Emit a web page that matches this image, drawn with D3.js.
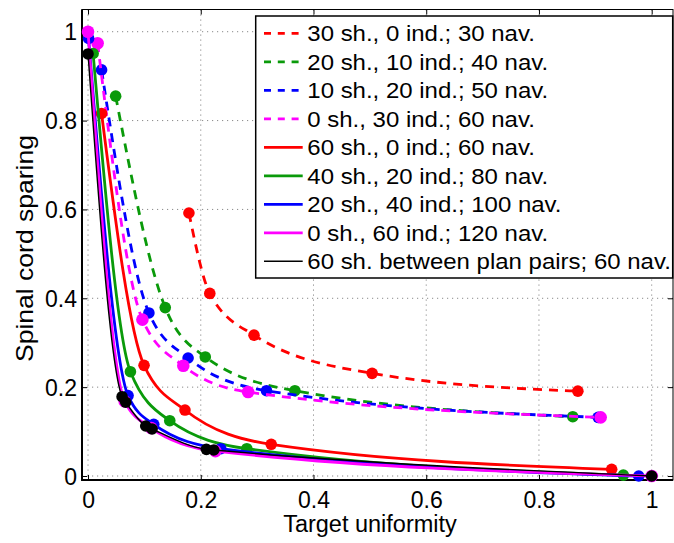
<!DOCTYPE html>
<html>
<head>
<meta charset="utf-8">
<script src="https://cdn.jsdelivr.net/npm/d3@7"></script>
<style>
  html, body { margin: 0; padding: 0; background: #fff; }
  svg { display: block; font-family: "Liberation Sans", Arial, Helvetica, sans-serif; }
</style>
</head>
<body>
<svg id="chart" width="674" height="543"></svg>
<script>
// ---------------- data ----------------
const seriesLabels = [
  "30 sh., 0 ind.; 30 nav.",
  "20 sh., 10 ind.; 40 nav.",
  "10 sh., 20 ind.; 50 nav.",
  "0 sh., 30 ind.; 60 nav.",
  "60 sh., 0 ind.; 60 nav.",
  "40 sh., 20 ind.; 80 nav.",
  "20 sh., 40 ind.; 100 nav.",
  "0 sh., 60 ind.; 120 nav.",
  "60 sh. between plan pairs; 60 nav."
];
const seriesColors = ["#ff0000", "#0a9a0a", "#0000ff", "#ff00ff", "#ff0000", "#0a9a0a", "#0000ff", "#ff00ff", "#000000"];
const seriesDashed = [true, true, true, true, false, false, false, false, false];

const dashRedX = [0.179, 0.216, 0.2945, 0.504, 0.869];
const dashRedY = [0.592, 0.411, 0.317, 0.231, 0.191];
const dashGreenX = [0.049, 0.137, 0.208, 0.367, 0.860];
const dashGreenY = [0.855, 0.379, 0.268, 0.192, 0.1335];
const dashBlueX = [0.024, 0.108, 0.1775, 0.3166, 0.905];
const dashBlueY = [0.914, 0.367, 0.2656, 0.192, 0.132];
const dashMagentaX = [0.017, 0.0965, 0.169, 0.284, 0.9095];
const dashMagentaY = [0.974, 0.352, 0.248, 0.189, 0.132];
const solidRedX = [0.024, 0.0994, 0.172, 0.325, 0.929];
const solidRedY = [0.816, 0.249, 0.1485, 0.0713, 0.015];
const solidGreenX = [0.009, 0.0752, 0.145, 0.2817, 0.9497];
const solidGreenY = [0.951, 0.2348, 0.1245, 0.0615, 0.002];
const solidBlueX = [0.001, 0.071, 0.1166, 0.2355, 0.977];
const solidBlueY = [0.985, 0.181, 0.1163, 0.0615, 0.0];
const solidMagentaX = [0.0, 0.065, 0.112, 0.226, 1.0];
const solidMagentaY = [1.0, 0.168, 0.108, 0.056, 0.0];
const blackX = [0.0, 0.0604, 0.0669, 0.1024, 0.1136, 0.210, 0.2231, 1.0];
const blackY = [0.95, 0.1785, 0.166, 0.1125, 0.1058, 0.060, 0.0585, 0.0];

const seriesX = [dashRedX, dashGreenX, dashBlueX, dashMagentaX, solidRedX, solidGreenX, solidBlueX, solidMagentaX, blackX];
const seriesY = [dashRedY, dashGreenY, dashBlueY, dashMagentaY, solidRedY, solidGreenY, solidBlueY, solidMagentaY, blackY];

const xTicks = [0, 0.2, 0.4, 0.6, 0.8, 1];
const yTicks = [0, 0.2, 0.4, 0.6, 0.8, 1];
const xTickLabels = ["0", "0.2", "0.4", "0.6", "0.8", "1"];
const yTickLabels = ["0", "0.2", "0.4", "0.6", "0.8", "1"];
const xTitle = "Target uniformity";
const yTitle = "Spinal cord sparing";

// ---------------- layout ----------------
const plot = { left: 82, top: 9.5, right: 673, bottom: 480 };
const svg = d3.select("#chart");

const x = d3.scaleLinear().domain([-0.0107, 1.0378]).range([plot.left, plot.right]);
const y = d3.scaleLinear().domain([-0.009, 1.05]).range([plot.bottom, plot.top]);

// grid
const grid = svg.append("g").attr("class", "grid");
grid.selectAll("line.gx").data(xTicks).join("line")
  .attr("x1", d => x(d)).attr("x2", d => x(d))
  .attr("y1", plot.top).attr("y2", plot.bottom)
  .attr("stroke", "#8a8a8a").attr("stroke-width", 1).attr("stroke-dasharray", "1.2,3.8");
grid.selectAll("line.gy").data(yTicks).join("line")
  .attr("y1", d => y(d)).attr("y2", d => y(d))
  .attr("x1", plot.left).attr("x2", plot.right)
  .attr("stroke", "#8a8a8a").attr("stroke-width", 1).attr("stroke-dasharray", "1.2,3.8");

// axes (ticks inside)
const xAxisB = d3.axisBottom(x).tickValues(xTicks).tickSize(-5).tickFormat((d, i) => xTickLabels[i]).tickPadding(0);
const xAxisT = d3.axisTop(x).tickValues(xTicks).tickSize(-5).tickFormat("");
const yAxisL = d3.axisLeft(y).tickValues(yTicks).tickSize(-5).tickFormat((d, i) => yTickLabels[i]).tickPadding(0);
const yAxisR = d3.axisRight(y).tickValues(yTicks).tickSize(-5).tickFormat("");

const gxb = svg.append("g").attr("transform", `translate(0,${plot.bottom})`).call(xAxisB);
const gxt = svg.append("g").attr("transform", `translate(0,${plot.top})`).call(xAxisT);
const gyl = svg.append("g").attr("transform", `translate(${plot.left},0)`).call(yAxisL);
const gyr = svg.append("g").attr("transform", `translate(${plot.right},0)`).call(yAxisR);
[gxb, gxt, gyl, gyr].forEach(g => {
  g.select(".domain").remove();
  g.selectAll(".tick line").attr("stroke", "#000").attr("stroke-width", 1);
});
gxb.selectAll(".tick text")
  .attr("font-size", 23).attr("fill", "#000")
  .attr("y", 28).attr("dy", 0);
gyl.selectAll(".tick text")
  .attr("font-size", 23).attr("fill", "#000")
  .attr("x", -5).attr("dy", "0.36em");

// axis box
svg.append("rect")
  .attr("x", plot.left).attr("y", plot.top)
  .attr("width", plot.right - plot.left).attr("height", plot.bottom - plot.top)
  .attr("fill", "none").attr("stroke", "#000").attr("stroke-width", 1);
svg.append("line").attr("x1", plot.left).attr("x2", plot.left).attr("y1", plot.top).attr("y2", plot.bottom + 0.8)
  .attr("stroke", "#000").attr("stroke-width", 2);
svg.append("line").attr("x1", plot.left - 0.8).attr("x2", plot.right).attr("y1", plot.bottom).attr("y2", plot.bottom)
  .attr("stroke", "#000").attr("stroke-width", 2);

// axis titles
svg.append("text")
  .attr("x", 370).attr("y", 532)
  .attr("text-anchor", "middle").attr("font-size", 23.5).attr("fill", "#000")
  .text(xTitle);
const yt = svg.append("text")
  .attr("transform", "translate(33,248.5) rotate(-90)")
  .attr("text-anchor", "middle").attr("font-size", 24.5).attr("fill", "#000")
  .text(yTitle);
yt.attr("textLength", 227).attr("lengthAdjust", "spacingAndGlyphs");

// series
const line = d3.line().x(d => x(d[0])).y(d => y(d[1])).curve(d3.curveMonotoneX);
const plotG = svg.append("g");
seriesX.forEach((xs, i) => {
  const pts = xs.map((v, j) => [v, seriesY[i][j]]);
  const g = plotG.append("g");
  g.append("path")
    .attr("d", line(pts))
    .attr("fill", "none")
    .attr("stroke", seriesColors[i])
    .attr("stroke-width", i === 8 ? 1.4 : 2.8)
    .attr("stroke-dasharray", seriesDashed[i] ? "9,7" : null);
  g.selectAll("circle").data(pts).join("circle")
    .attr("cx", d => x(d[0])).attr("cy", d => y(d[1]))
    .attr("r", seriesColors[i] === "#ff00ff" ? 6.3 : 5.8)
    .attr("fill", seriesColors[i]);
});

// legend
const leg = { x: 255.7, y: 16, w: 417, h: 262, row0: 33.3, step: 28.5, lx1: 264, lx2: 302.7, tx: 307.3 };
const lg = svg.append("g");
lg.append("rect")
  .attr("x", leg.x).attr("y", leg.y).attr("width", leg.w).attr("height", leg.h)
  .attr("fill", "#fff").attr("stroke", "#000").attr("stroke-width", 1.5);
seriesLabels.forEach((lab, i) => {
  const cy = leg.row0 + i * leg.step;
  lg.append("line")
    .attr("x1", leg.lx1).attr("x2", leg.lx2).attr("y1", cy).attr("y2", cy)
    .attr("stroke", seriesColors[i])
    .attr("stroke-width", i === 8 ? 1.4 : 2.8)
    .attr("stroke-dasharray", seriesDashed[i] ? "7,6.8" : null);
  const t = lg.append("text")
    .attr("x", leg.tx).attr("y", cy + 7.8)
    .attr("font-size", 22).attr("fill", "#000")
    .text(lab);
  const len = t.node().getComputedTextLength();
  t.attr("textLength", len * 1.09).attr("lengthAdjust", "spacingAndGlyphs");
});
</script>
</body>
</html>
